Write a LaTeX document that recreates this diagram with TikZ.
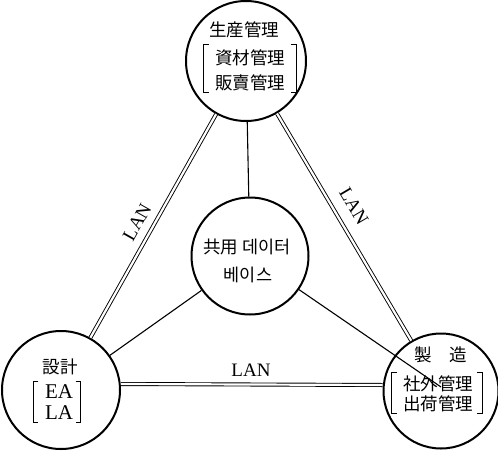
\documentclass[tikz,border=0pt]{standalone}
\usepackage{fontspec}
\setmainfont{Liberation Serif}
\newfontfamily\jpfont{Noto Sans CJK JP}
\newfontfamily\krfont{Noto Sans CJK KR}
\begin{document}
\begin{tikzpicture}[x=1pt,y=1pt,
  disk/.style={circle,draw,line width=2pt,inner sep=0pt},
  lan/.style={double,double distance=2.2pt,line width=0.9pt},
  link/.style={line width=1.1pt},
  jt/.style={font=\jpfont\fontsize{17.5}{18}\selectfont,inner sep=0pt},
  kt/.style={font=\krfont\fontsize{17.5}{18}\selectfont,inner sep=0pt},
  lt/.style={font=\fontsize{19}{19}\selectfont,inner sep=0pt},
  et/.style={font=\fontsize{21}{21}\selectfont,inner sep=0pt},
  frame/.style={inner sep=0pt,draw=none},
  brk/.style={line width=1.2pt}]
\useasboundingbox (0,0) rectangle (498,-450);

% circles
\node[disk,minimum size=120pt] (T) at (246,-61) {};
\node[disk,minimum size=117pt] (C) at (250,-256) {};
\node[disk,minimum size=118pt] (L) at (61,-390) {};
\node[disk,minimum size=115pt] (R) at (441,-391) {};

% connectors
\draw[lan] (T) -- (L);
\draw[lan] (T) -- (R);
\draw[lan] ([yshift=6pt]L.east) -- ([yshift=6pt]R.west);
\draw[link] (T) -- (C);
\draw[link] (C) -- (L);
\draw[link] (C) -- ([yshift=4pt]R.center);

% LAN labels
\node[lt,rotate=60.6] (lanl) at (137,-222) {LAN};
\node[lt,rotate=-59.4] (lanr) at (354,-206) {LAN};
\node[lt] (lanb) at (251,-370) {LAN};

% top circle text
\node[jt] (t1) at (244,-30) {生産管理};
\node[jt] (t2) at (250,-58) {資材管理};
\node[jt] (t3) at (250,-83) {販賣管理};
\node[frame,minimum width=92pt,minimum height=47pt] (tb) at (250,-68.5) {};
\draw[brk] ([xshift=5pt]tb.north west) -- (tb.north west) -- (tb.south west) -- ([xshift=5pt]tb.south west);
\draw[brk] ([xshift=-5pt]tb.north east) -- (tb.north east) -- (tb.south east) -- ([xshift=-5pt]tb.south east);

% centre circle text
\node[kt] (c1) at (247,-247) {共用 데이터};
\node[kt] (c2) at (248,-275) {베이스};

% left circle text
\node[jt] (l1) at (60,-367) {設計};
\node[et] (l2) at (59,-392) {EA};
\node[et] (l3) at (59,-413) {LA};
\node[frame,minimum width=47pt,minimum height=40pt] (lb) at (57,-402) {};
\draw[brk] ([xshift=5pt]lb.north west) -- (lb.north west) -- (lb.south west) -- ([xshift=5pt]lb.south west);
\draw[brk] ([xshift=-5pt]lb.north east) -- (lb.north east) -- (lb.south east) -- ([xshift=-5pt]lb.south east);

% right circle text
\node[jt] (r1) at (441,-355) {製\hspace{1em}造};
\node[jt] (r2) at (438,-384) {社外管理};
\node[jt] (r3) at (438,-404) {出荷管理};
\node[frame,minimum width=90pt,minimum height=40pt] (rb) at (437,-393) {};
\draw[brk] ([xshift=5pt]rb.north west) -- (rb.north west) -- (rb.south west) -- ([xshift=5pt]rb.south west);
\draw[brk] ([xshift=-5pt]rb.north east) -- (rb.north east) -- (rb.south east) -- ([xshift=-5pt]rb.south east);
\end{tikzpicture}
\end{document}
